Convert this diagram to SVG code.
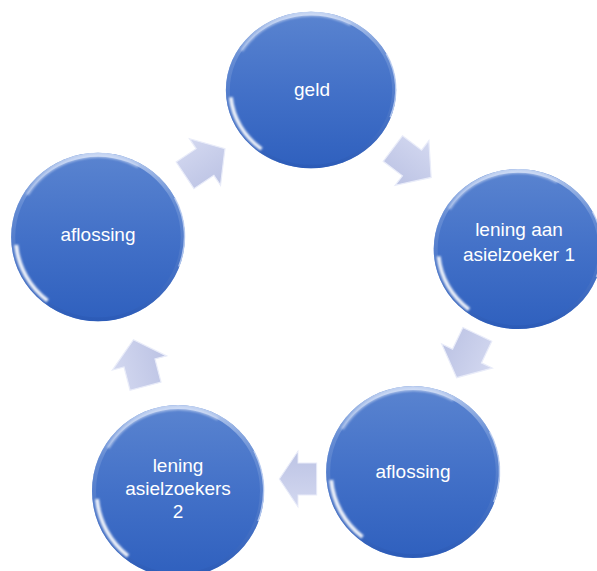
<svg xmlns="http://www.w3.org/2000/svg" xmlns:xlink="http://www.w3.org/1999/xlink" width="597" height="571" viewBox="0 0 597 571">
<defs>
<linearGradient id="gBall" x1="0" y1="0" x2="0" y2="1">
<stop offset="0" stop-color="#5a84d0"/>
<stop offset="0.5" stop-color="#4371c8"/>
<stop offset="1" stop-color="#2f60be"/>
</linearGradient>
<linearGradient id="gRim" x1="0" y1="0" x2="0" y2="1">
<stop offset="0" stop-color="#c9d8f4" stop-opacity="0.9"/>
<stop offset="0.3" stop-color="#7d9fdc" stop-opacity="0.5"/>
<stop offset="1" stop-color="#2a58b3" stop-opacity="0.6"/>
</linearGradient>
<linearGradient id="gArrow" x1="0" y1="0" x2="0" y2="1">
<stop offset="0" stop-color="#d3d8f0"/>
<stop offset="1" stop-color="#bcc3e4"/>
</linearGradient>
<filter id="blur" x="-20%" y="-20%" width="140%" height="140%">
<feGaussianBlur stdDeviation="1.2"/>
</filter>
<g id="ball">
<circle r="86" fill="url(#gBall)"/>
<circle r="84" fill="none" stroke="url(#gRim)" stroke-width="4"/>
<path d="M -81 8 A 82 82 0 0 0 -50 65" fill="none" stroke="#ffffff" stroke-width="4" stroke-opacity="0.9" filter="url(#blur)"/>
<path d="M -70 -43 A 82 82 0 0 1 40 -72" fill="none" stroke="#dfe8fa" stroke-width="3" stroke-opacity="0.6" filter="url(#blur)"/>
<path d="M 76 -40 A 85 85 0 0 1 80 30" fill="none" stroke="#c4d4f4" stroke-width="1.5" stroke-opacity="0.8"/>
</g>
<path id="arrow" d="M -24 -16 L 0 -16 L 0 -28 L 24 0 L 0 28 L 0 16 L -24 16 Z"/>
<style>
.lbl { font-family: "Liberation Sans", Arial, sans-serif; font-size: 19px; fill: #ffffff; text-anchor: middle; }
.arr { fill: url(#gArrow); stroke: #e9ecf9; stroke-width: 1.2; stroke-linejoin: miter; }
</style>
</defs>
<rect width="597" height="571" fill="#ffffff"/>
<g id="connectors">
<use xlink:href="#arrow" class="arr" transform="translate(205,162) rotate(-33.7)"/>
<use xlink:href="#arrow" class="arr" transform="translate(412,163) rotate(37)"/>
<use xlink:href="#arrow" class="arr" transform="translate(467,356) rotate(115.5)"/>
<use xlink:href="#arrow" class="arr" transform="translate(298,479) rotate(180) scale(0.78,1)"/>
<use xlink:href="#arrow" class="arr" transform="translate(139.5,363) rotate(-104.6)"/>
</g>
<g id="node-geld">
<use xlink:href="#ball" transform="translate(311,90) scale(0.99,0.91)"/>
<text class="lbl" x="312" y="96">geld</text>
</g>
<g id="node-lening1">
<use xlink:href="#ball" transform="translate(518,249) scale(0.98,0.93)"/>
<text class="lbl" x="519" y="236">lening aan</text>
<text class="lbl" x="519" y="261">asielzoeker 1</text>
</g>
<g id="node-aflossing-right">
<use xlink:href="#ball" transform="translate(413,472) scale(1.01,1.0)"/>
<text class="lbl" x="413" y="478">aflossing</text>
</g>
<g id="node-lening2">
<use xlink:href="#ball" transform="translate(178,491) scale(1.0,1.0)"/>
<text class="lbl" x="178" y="472">lening</text>
<text class="lbl" x="178" y="495">asielzoekers</text>
<text class="lbl" x="178" y="518">2</text>
</g>
<g id="node-aflossing-left">
<use xlink:href="#ball" transform="translate(98,237) scale(1.01,0.98)"/>
<text class="lbl" x="98" y="241">aflossing</text>
</g>
</svg>
